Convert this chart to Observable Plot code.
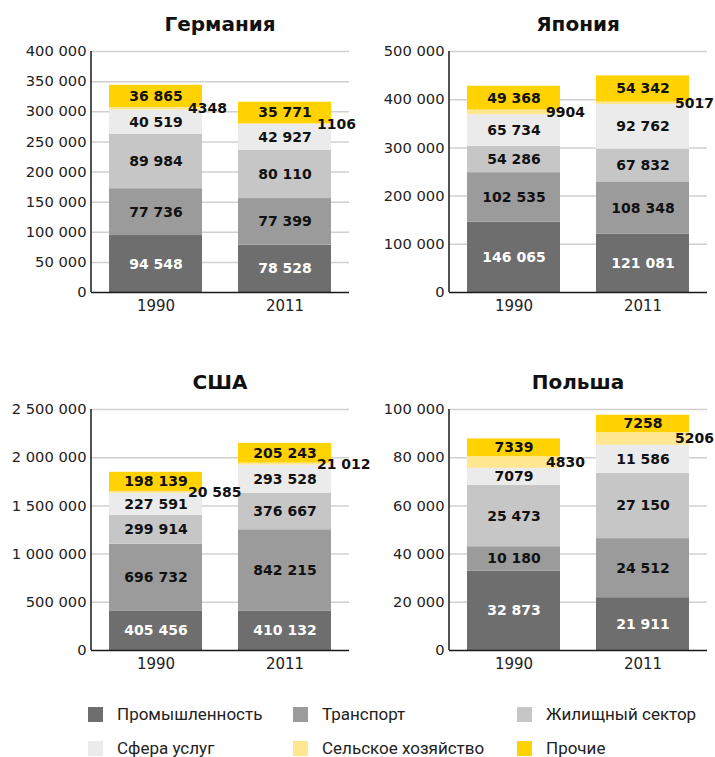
<!DOCTYPE html>
<html>
<head>
<meta charset="utf-8">
<script src="https://cdn.jsdelivr.net/npm/d3@7"></script>
<script src="https://cdn.jsdelivr.net/npm/@observablehq/plot@0.6"></script>
<style>
  html, body { margin: 0; padding: 0; background: #fff; }
  #root { position: relative; width: 715px; height: 757px; overflow: hidden; font-family: "DejaVu Sans", sans-serif; }
  .panel { position: absolute; }
  .title { position: absolute; font-family: "DejaVu Sans", sans-serif; font-weight: bold; font-size: 20px; color: #111; text-align: center; line-height: 1; }
  .leg { position: absolute; font-family: Roboto, sans-serif; font-size: 17px; color: #222; line-height: 1; white-space: nowrap; }
  .sw { position: absolute; width: 15px; height: 15px; }
</style>
</head>
<body>
<div id="root"></div>
<script>
const categories = ["Промышленность", "Транспорт", "Жилищный сектор", "Сфера услуг", "Сельское хозяйство", "Прочие"];
const colors = ["#6e6e6e", "#9b9b9b", "#c5c6c5", "#ebebeb", "#ffe690", "#ffd200"];
const years = ["1990", "2011"];

const germany1990 = [94548, 77736, 89984, 40519, 4348, 36865];
const germany2011 = [78528, 77399, 80110, 42927, 1106, 35771];
const japan1990 = [146065, 102535, 54286, 65734, 9904, 49368];
const japan2011 = [121081, 108348, 67832, 92762, 5017, 54342];
const usa1990 = [405456, 696732, 299914, 227591, 20585, 198139];
const usa2011 = [410132, 842215, 376667, 293528, 21012, 205243];
const poland1990 = [32873, 10180, 25473, 7079, 4830, 7339];
const poland2011 = [21911, 24512, 27150, 11586, 5206, 7258];

const germanyTicks = [0, 50000, 100000, 150000, 200000, 250000, 300000, 350000, 400000];
const japanTicks = [0, 100000, 200000, 300000, 400000, 500000];
const usaTicks = [0, 500000, 1000000, 1500000, 2000000, 2500000];
const polandTicks = [0, 20000, 40000, 60000, 80000, 100000];

const panels = [
  {title: "Германия", v: [germany1990, germany2011], ticks: germanyTicks, left: 0, top: 40, width: 357, ml: 91},
  {title: "Япония", v: [japan1990, japan2011], ticks: japanTicks, left: 357, top: 40, width: 358, ml: 92},
  {title: "США", v: [usa1990, usa2011], ticks: usaTicks, left: 0, top: 398, width: 357, ml: 91},
  {title: "Польша", v: [poland1990, poland2011], ticks: polandTicks, left: 357, top: 398, width: 358, ml: 92}
];

const loc = d3.formatLocale({decimal: ",", thousands: "\u00a0", grouping: [3], currency: ["", ""]});
const grp = loc.format(",");
const fmtTick = n => grp(n);
const fmtVal = n => n >= 10000 ? grp(n) : String(n);

const IND = categories[0];
const AGR = categories[4];

const root = document.getElementById("root");

const MT = 11, PH = 241, MB = 30, MR = 8;

for (const p of panels) {
  const rows = [];
  years.forEach((yr, i) => categories.forEach((c, j) => rows.push({year: yr, category: c, value: p.v[i][j]})));

  const axisLine = (index, scales, values, dims) => {
    const g = document.createElementNS("http://www.w3.org/2000/svg", "g");
    const l = document.createElementNS("http://www.w3.org/2000/svg", "line");
    const x0 = dims.marginLeft;
    l.setAttribute("x1", x0); l.setAttribute("x2", x0);
    l.setAttribute("y1", dims.marginTop); l.setAttribute("y2", dims.height - dims.marginBottom);
    l.setAttribute("stroke", "#1a1a1a"); l.setAttribute("stroke-width", 1.5);
    g.appendChild(l);
    return g;
  };

  const chart = Plot.plot({
    width: p.width,
    height: MT + PH + MB,
    marginTop: MT,
    marginBottom: MB,
    marginLeft: p.ml,
    marginRight: MR,
    style: {fontFamily: "DejaVu Sans, sans-serif", fontSize: "15px", color: "#222", background: "transparent", overflow: "visible"},
    x: {domain: years, paddingInner: 0.277, paddingOuter: 0.131, label: null},
    y: {domain: [p.ticks[0], p.ticks[p.ticks.length - 1]], label: null},
    color: {domain: categories, range: colors},
    marks: [
      Plot.ruleY(p.ticks.slice(1), {stroke: "#d0d0d0", strokeWidth: 1.5}),
      Plot.axisY({ticks: p.ticks, tickFormat: fmtTick, tickSize: 0, tickPadding: 5, fontSize: 14.7, label: null}),
      Plot.axisX({tickSize: 0, tickPadding: 8, fontSize: 15, label: null}),
      Plot.barY(rows, {x: "year", y: "value", fill: "category"}),
      Plot.text(rows, Plot.stackY({x: "year", y: "value", z: "category", text: d => d.category === IND ? fmtVal(d.value) : null, fill: "white", fontWeight: "bold", fontSize: 14})),
      Plot.text(rows, Plot.stackY({x: "year", y: "value", z: "category", text: d => (d.category !== IND && d.category !== AGR) ? fmtVal(d.value) : null, fill: "#111", fontWeight: "bold", fontSize: 14})),
      Plot.text(rows, Plot.stackY({x: "year", y: "value", z: "category", text: d => d.category === AGR ? fmtVal(d.value) : null, fill: "#111", fontWeight: "bold", fontSize: 14, textAnchor: "start", dx: 32})),
      Plot.ruleY([0], {stroke: "#1a1a1a", strokeWidth: 1.5}),
      axisLine
    ]
  });

  const wrap = document.createElement("div");
  wrap.className = "panel";
  wrap.style.left = p.left + "px";
  wrap.style.top = p.top + "px";
  wrap.appendChild(chart);
  root.appendChild(wrap);

  const t = document.createElement("div");
  t.className = "title";
  t.textContent = p.title;
  t.style.left = (p.left + p.ml) + "px";
  t.style.width = (p.width - p.ml - MR) + "px";
  t.style.top = (p.top - 26) + "px";
  root.appendChild(t);
}

// legend
const legX = [88, 293, 517];
const legY = [707, 741];
categories.forEach((c, i) => {
  const col = i % 3, row = Math.floor(i / 3);
  const s = document.createElement("div");
  s.className = "sw";
  s.style.left = legX[col] + "px";
  s.style.top = legY[row] + "px";
  s.style.background = colors[i];
  root.appendChild(s);
  const t = document.createElement("div");
  t.className = "leg";
  t.textContent = c;
  t.style.left = (legX[col] + 29) + "px";
  t.style.top = (legY[row] - 1) + "px";
  root.appendChild(t);
});
</script>
</body>
</html>
